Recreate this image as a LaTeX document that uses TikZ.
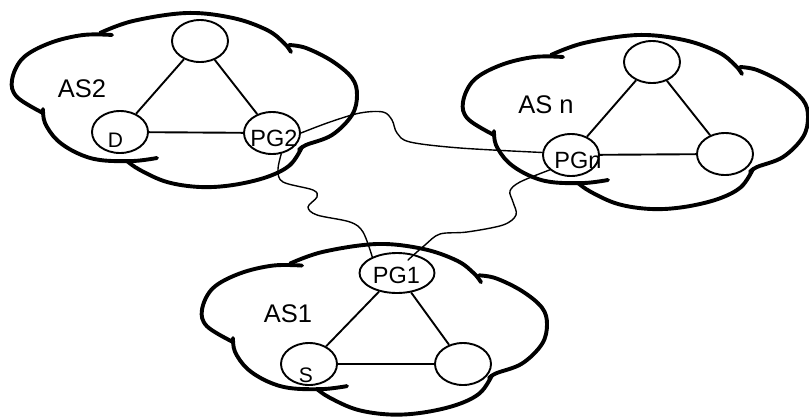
\documentclass[tikz,border=0pt]{standalone}
\usepackage{fontspec}
\setmainfont{Liberation Sans}
\usetikzlibrary{shapes.geometric,calc}

\tikzset{
  cloudline/.style={line width=3.9pt, line cap=round, line join=round},
  router/.style={draw, fill=white, ellipse, line width=1.9pt,
                 minimum width=56pt, minimum height=42pt, inner sep=0pt},
  gateway/.style={router, minimum width=75pt, minimum height=40pt},
  link/.style={line width=1.9pt},
  wire/.style={line width=1.4pt, line cap=round},
  aslabel/.style={font=\fontsize{25.5}{28}\selectfont, inner sep=0pt},
  gwlabel/.style={font=\fontsize{23.5}{26}\selectfont, inner sep=0pt},
  hostlabel/.style={font=\fontsize{21}{24}\selectfont, inner sep=0pt},
}

% One autonomous-system cloud, five lobes; origin at the top-left corner
\newcommand\asCloud{%
  \draw[cloudline] plot[smooth, tension=0.6] coordinates
    {(100,22) (71,22) (38,30) (11,45) (0,67) (5,84) (31,100)};
  \draw[cloudline] plot[smooth, tension=0.6] coordinates
    {(31,96) (33,110) (45,127) (65,140) (88,147) (121,148) (145,145)};
  \draw[cloudline] plot[smooth, tension=0.6] coordinates
    {(115,148) (128,157) (155,169) (188,174) (221,172) (255,164) (278,152) (290,134)};
  \draw[cloudline] plot[smooth, tension=0.6] coordinates
    {(277,32) (294,35) (320,48) (340,65) (345,82) (340,102) (320,122) (294,132) (287,137)};
  \draw[cloudline] plot[smooth, tension=0.6] coordinates
    {(88,20) (121,8) (175,0) (221,5) (255,17) (272,30) (279,39)};
}

\begin{document}
\begin{tikzpicture}[x=1pt, y=-1pt]
\useasboundingbox (0,0) rectangle (809,416);
\fill[white] (0,0) rectangle (809,416);

% clouds
\begin{scope}[shift={(12,13)}]   \asCloud \end{scope}
\begin{scope}[shift={(463,35)}]  \asCloud \end{scope}
\begin{scope}[shift={(202,244)}, yscale=0.98] \asCloud \end{scope}

% AS2
\node[router] (a2top) at (200,41) {};
\node[router] (d)     at (120,132) {};
\node[router] (pg2)   at (272,133) {};
\node[aslabel]   (as2lbl) at (82,89) {AS2};
\node[hostlabel] (dlbl)   at (115.5,140.5) {D};
\node[gwlabel]   (pg2lbl) at (274,138.5) {PG2};
\draw[link] (a2top) -- (d);
\draw[link] (a2top) -- (pg2);
\draw[link] (d) -- (pg2);

% AS n
\node[router] (antop)   at (652,62) {};
\node[router] (pgn)     at (571,155) {};
\node[router] (anright) at (725,154) {};
\node[aslabel] (asnlbl) at (546,105) {AS n};
\node[gwlabel] (pgnlbl) at (578,160) {PGn};
\draw[link] (antop) -- (pgn);
\draw[link] (antop) -- (anright);
\draw[link] (pgn) -- (anright);

% AS1
\node[gateway] (pg1)     at (397,273) {};
\node[router]  (s)       at (309,364) {};
\node[router]  (a1right) at (463,364) {};
\node[aslabel]   (as1lbl) at (288,314) {AS1};
\node[gwlabel]   (pg1lbl) at (396.5,275) {PG1};
\node[hostlabel] (slbl)   at (306,375) {S};
\draw[link] (pg1) -- (s);
\draw[link] (pg1) -- (a1right);
\draw[link] (s) -- (a1right);

% inter-domain links
\draw[wire] plot[smooth, tension=0.55] coordinates
  {(pg2.east) (330,122) (360,113) (383,112) (392,120) (397,133) (410,142) (460,148) (pgn.175)};
\draw[wire] plot[smooth, tension=0.55] coordinates
  {(pg2.-66) (278,170) (283,182) (313,190) (317,197) (308,207) (317,215) (350,222) (363,232) (pg1.147)};
\draw[wire] plot[smooth, tension=0.55] coordinates
  {(pgn.-145) (520,182) (510,191) (513,202) (516,215) (503,225) (467,232) (440,234) (425,245) ($(pg1.center)+(11,-13)$)};
\end{tikzpicture}
\end{document}
